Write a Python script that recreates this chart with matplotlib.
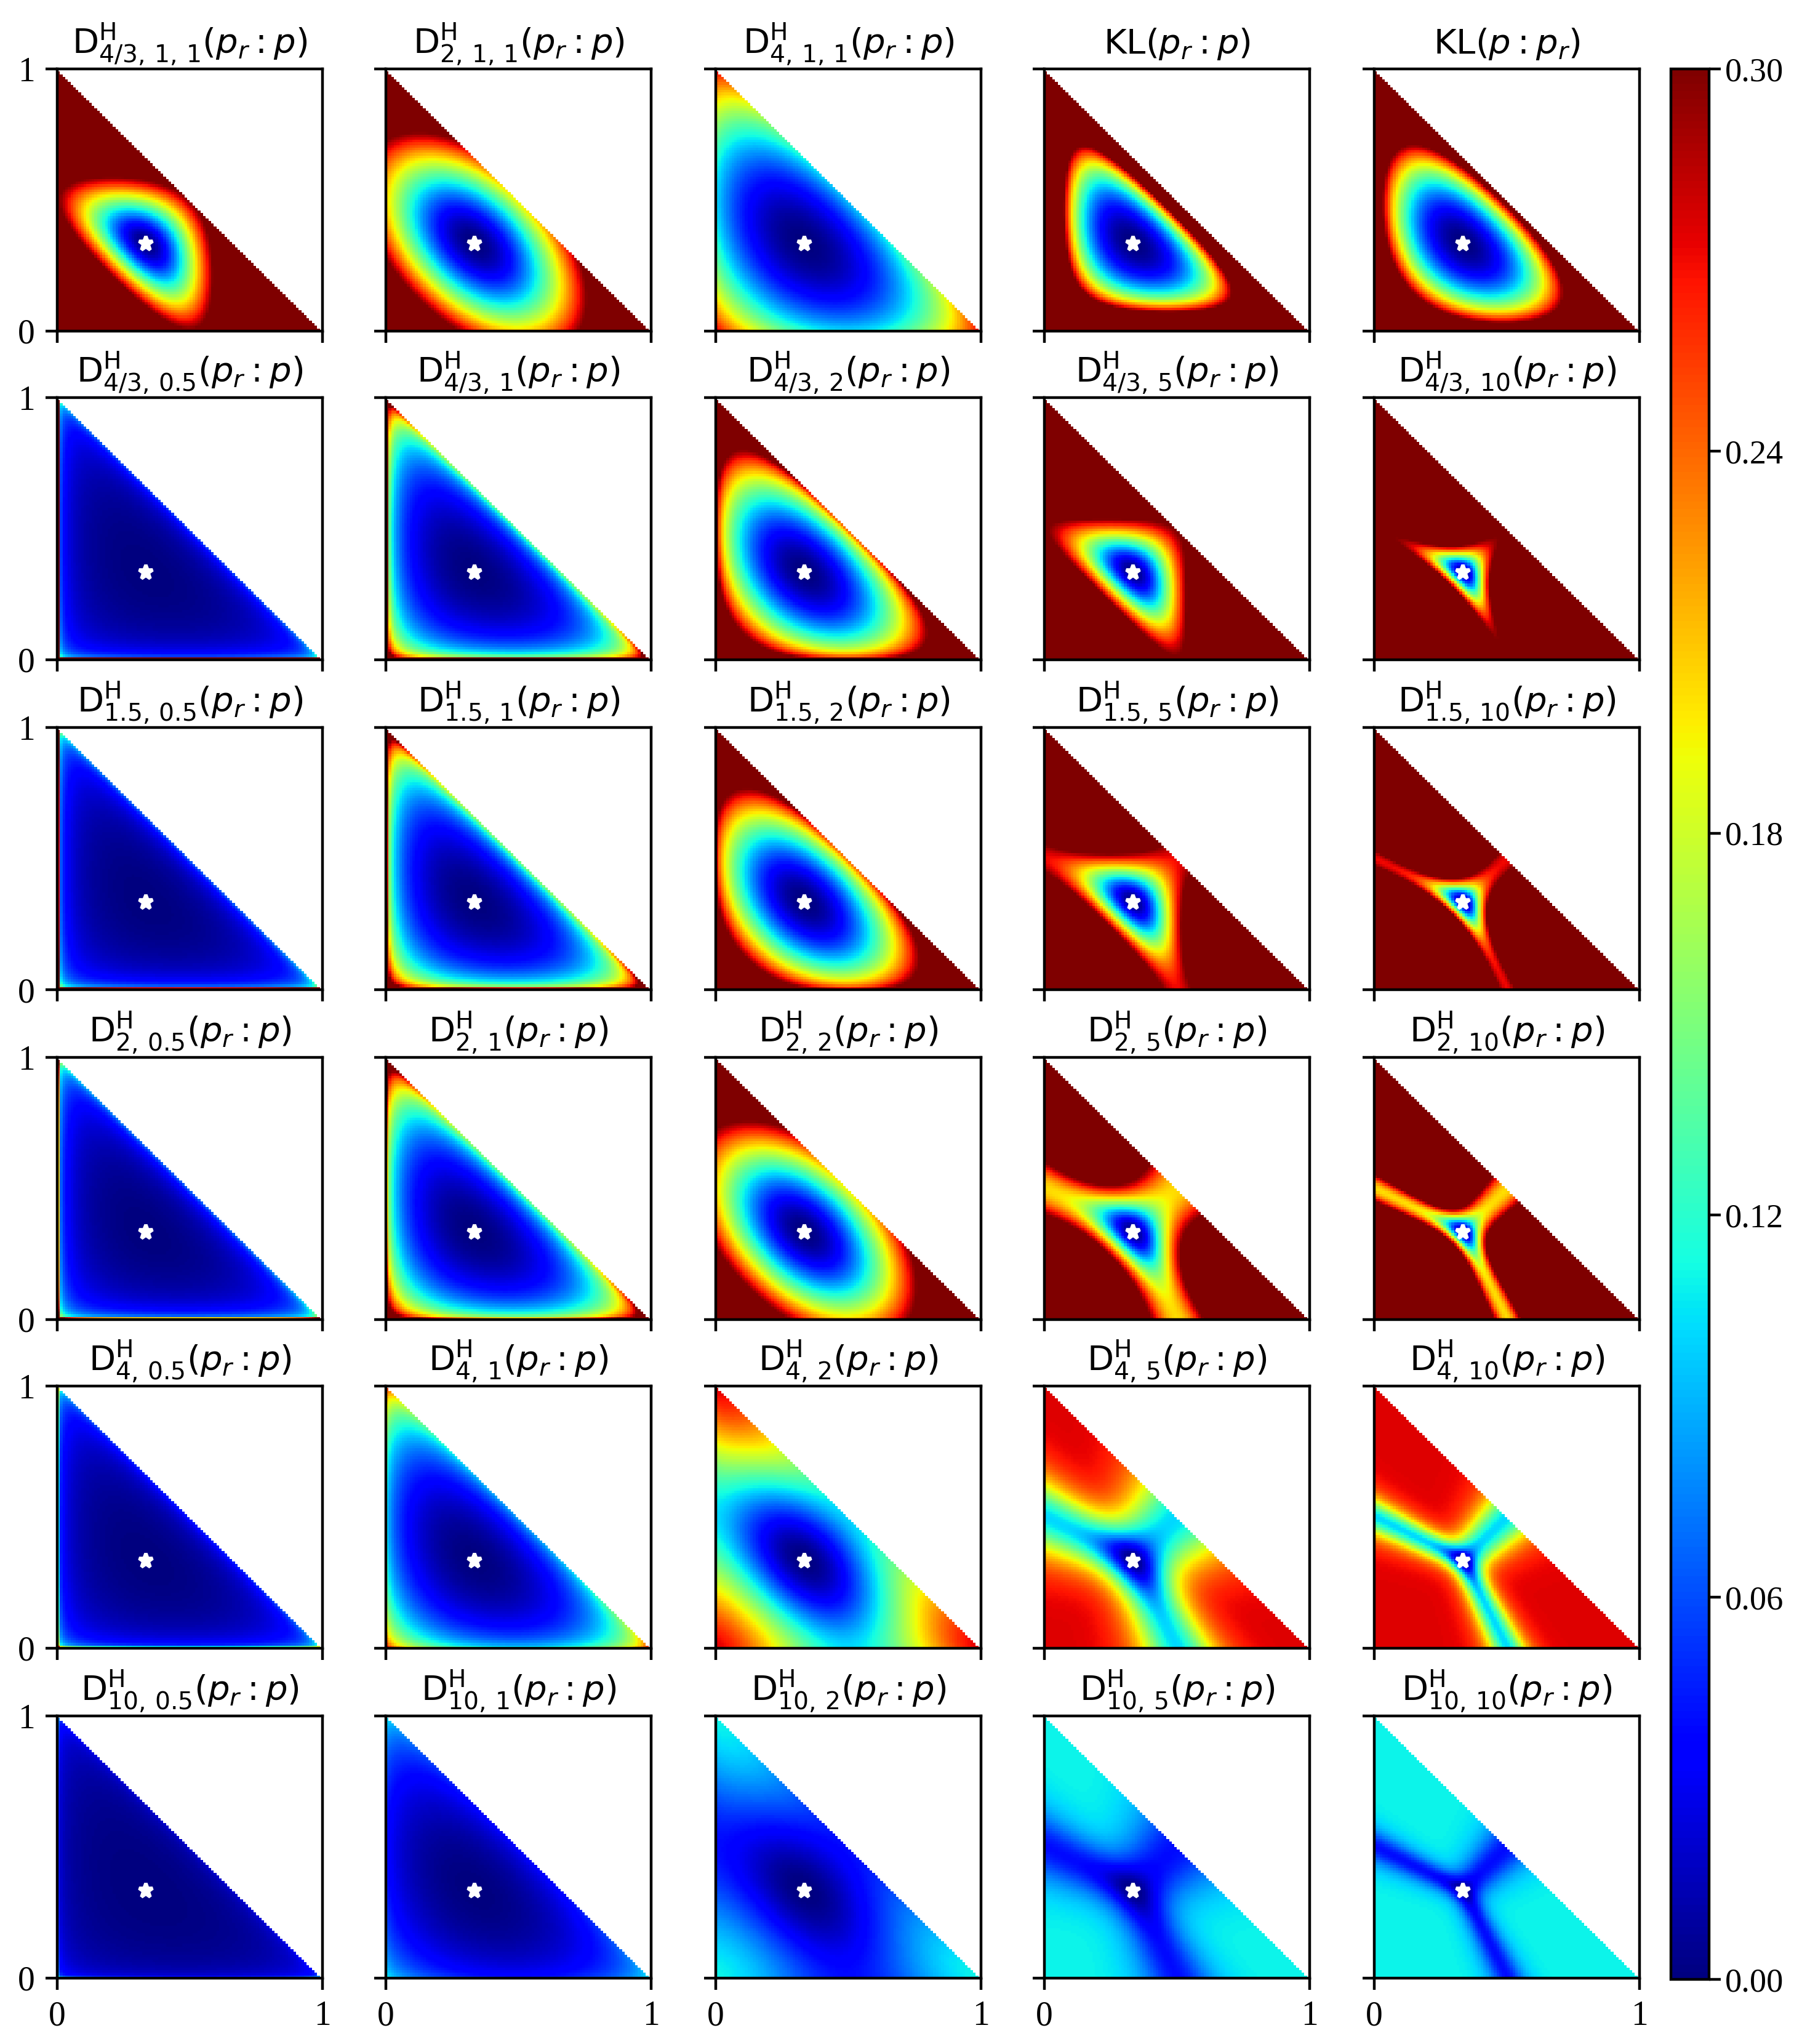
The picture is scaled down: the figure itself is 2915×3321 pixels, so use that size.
import numpy as np
import matplotlib
matplotlib.use("Agg")
import matplotlib.pyplot as plt

plt.rcParams["font.family"] = ["Liberation Serif", "DejaVu Serif"]
plt.rcParams["mathtext.fontset"] = "dejavusans"

# parameters of the panels, read from the titles
top_alphas = ["4/3", "2", "4"]
top_alpha_values = [4 / 3, 2, 4]
row_alphas = ["4/3", "1.5", "2", "4", "10"]
row_alpha_values = [4 / 3, 1.5, 2, 4, 10]
gammas = ["0.5", "1", "2", "5", "10"]
gamma_values = [0.5, 1, 2, 5, 10]

reference = [1 / 3, 1 / 3, 1 / 3]
cbar_ticks = [0.00, 0.06, 0.12, 0.18, 0.24, 0.30]
cells = 100
vmax = 0.30

W, H = 2915, 3321
col_lefts = [93, 627, 1163, 1697, 2233]
row_tops = [112, 646, 1182, 1718, 2252, 2788]
ax_w, ax_h = 431, 426


def simplex():
    x = np.linspace(0, 1, cells)
    X, Y = np.meshgrid(x, x)
    Z = 1 - X - Y
    mask = Z < 1e-9
    return np.stack([X, Y, np.clip(Z, 0, 1)]), mask


def holder(p, alpha, sigma, tau):
    r = np.array(reference).reshape(3, 1, 1)
    beta = alpha / (alpha - 1)
    a = np.sum(r ** (alpha * sigma), axis=0) ** (1 / alpha)
    b = np.sum(p ** (beta * tau), axis=0) ** (1 / beta)
    c = np.sum(r**sigma * p**tau, axis=0)
    return np.log(a * b / c)


def kl_ref_p(p):
    r = np.array(reference).reshape(3, 1, 1)
    with np.errstate(divide="ignore"):
        return np.minimum(np.sum(r * (np.log(r) - np.log(p)), axis=0), 10)


def kl_p_ref(p):
    r = np.array(reference).reshape(3, 1, 1)
    safe = np.where(p > 0, p, 1)
    return np.sum(p * (np.log(safe) - np.log(r)), axis=0)


def panel_list(p):
    panels = []
    for name, a in zip(top_alphas, top_alpha_values):
        title = r"$\mathrm{D}^{\mathrm{H}}_{%s,\,1,\,1}(p_r:p)$" % name
        panels.append((title, holder(p, a, 1, 1)))
    panels.append((r"$\mathrm{KL}(p_r:p)$", kl_ref_p(p)))
    panels.append((r"$\mathrm{KL}(p:p_r)$", kl_p_ref(p)))
    for name, a in zip(row_alphas, row_alpha_values):
        for gname, g in zip(gammas, gamma_values):
            title = r"$\mathrm{D}^{\mathrm{H}}_{%s,\,%s}(p_r:p)$" % (name, gname)
            beta = a / (a - 1)
            panels.append((title, holder(p, a, g / a, g / beta)))
    return panels


fig = plt.figure(figsize=(W / 400, H / 400), dpi=400)
p, mask = simplex()
panels = panel_list(p)

for i, (title, field) in enumerate(panels):
    row, col = divmod(i, 5)
    left = col_lefts[col] / W
    bottom = 1 - (row_tops[row] + ax_h) / H
    ax = fig.add_axes([left, bottom, ax_w / W, ax_h / H])
    im = ax.imshow(np.ma.array(field, mask=mask), origin="lower", extent=(0, 1, 0, 1),
                   cmap="jet", vmin=0, vmax=vmax, aspect="auto")
    ax.plot([reference[0]], [reference[1]], "*", color="white", ms=4.3)
    ax.set_xlim(0, 1)
    ax.set_ylim(0, 1)
    ax.set_xticks([0, 1])
    ax.set_yticks([0, 1])
    ax.tick_params(labelsize=10, pad=3)
    if row < 5:
        ax.set_xticklabels([])
    if col > 0:
        ax.set_yticklabels([])
    ax.set_title(title, fontsize=10.1, pad=4.5)

cax = fig.add_axes([2715 / W, 1 - (112 + 3104) / H, 62 / W, 3104 / H])
cbar = fig.colorbar(im, cax=cax, ticks=cbar_ticks, format="%.2f")
cbar.ax.tick_params(labelsize=9.8, pad=1.2)

fig.savefig("out.png", dpi=400)
